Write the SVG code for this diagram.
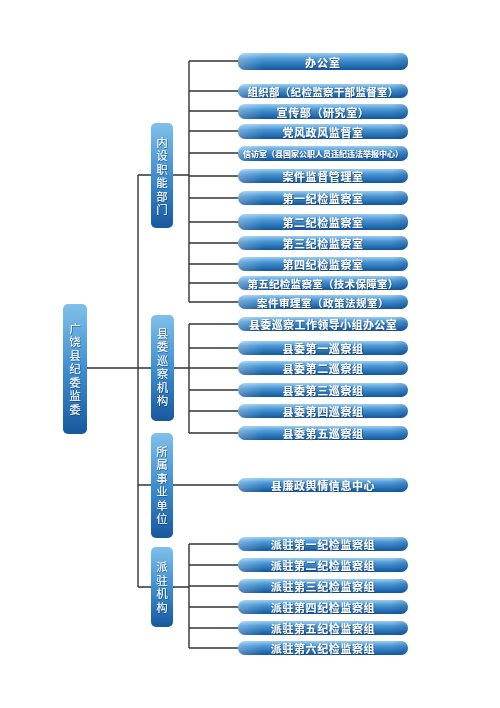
<svg xmlns="http://www.w3.org/2000/svg" width="500" height="708" viewBox="0 0 500 708">
<defs>
<linearGradient id="gBox" x1="0" y1="0" x2="0" y2="1">
<stop offset="0" stop-color="#9ccdf0"/>
<stop offset="0.35" stop-color="#4a98d6"/>
<stop offset="1" stop-color="#13569c"/>
</linearGradient>
<linearGradient id="gShade" x1="0" y1="0" x2="1" y2="0">
<stop offset="0" stop-color="#ffffff" stop-opacity="0.25"/>
<stop offset="0.15" stop-color="#ffffff" stop-opacity="0"/>
<stop offset="0.9" stop-color="#0a3f7a" stop-opacity="0"/>
<stop offset="1" stop-color="#0a3f7a" stop-opacity="0.25"/>
</linearGradient>
<linearGradient id="gNode" x1="0" y1="0" x2="0" y2="1">
<stop offset="0" stop-color="#80c0ea"/>
<stop offset="0.5" stop-color="#3f8fd0"/>
<stop offset="1" stop-color="#17589f"/>
</linearGradient>
<filter id="sh" x="-10%" y="-30%" width="120%" height="160%">
<feDropShadow dx="0.6" dy="0.6" stdDeviation="0.4" flood-color="#0b2f5a" flood-opacity="0.8"/>
</filter>
</defs>
<style>
.box{fill:url(#gBox)}
.ov{fill:url(#gShade)}
.node{fill:url(#gNode)}
.t{font-family:"Noto Sans CJK SC","Noto Sans",sans-serif;font-weight:bold;fill:#ffffff;text-anchor:middle;dominant-baseline:central;font-size:11px;letter-spacing:0.6px;filter:url(#sh)}
.v{font-size:11.5px;font-weight:normal;writing-mode:vertical-rl;text-orientation:upright;letter-spacing:2px;text-anchor:middle}
.c{fill:none;stroke:#333333;stroke-width:1.4}
</style>
<rect width="500" height="708" fill="#ffffff"/>
<g id="connectors">
<path class="c" d="M87 368H138M138 175V587M138 175H151M173 175H189M189 61V302M189 61H238M189 91H238M189 111H238M189 131H238M189 153H238M189 176H238M189 198H238M189 222H238M189 243H238M189 264H238M189 283H238M189 302H238"/>
<path class="c" d="M138 368H151M174 368H189M189 324V433M189 324H238M189 348H238M189 368H238M189 390H238M189 411H238M189 433H238"/>
<path class="c" d="M138 485H151M173 485H238"/>
<path class="c" d="M138 587H151M173 587H189M189 544V648M189 544H238M189 565H238M189 586H238M189 607H238M189 628H238M189 648H238"/>
</g>
<g id="root"><rect class="node" x="63" y="304" width="24" height="130" rx="5"/>
<text class="t v" x="75" y="370">广饶县纪委监委</text></g>
<g id="n-neishe"><rect class="node" x="151" y="123" width="22" height="105" rx="5"/>
<text class="t v" x="162" y="177">内设职能部门</text></g>
<g id="n-xuncha"><rect class="node" x="151" y="315" width="23" height="106" rx="5"/>
<text class="t v" x="162.5" y="368">县委巡察机构</text></g>
<g id="n-shiye"><rect class="node" x="151" y="433" width="22" height="105" rx="5"/>
<text class="t v" x="162" y="486">所属事业单位</text></g>
<g id="n-paizhu"><rect class="node" x="151" y="547" width="22" height="80" rx="5"/>
<text class="t v" x="162" y="588">派驻机构</text></g>
<g id="b01"><rect class="box" x="238" y="53" width="170" height="17" rx="7"/><rect class="ov" x="238" y="53" width="170" height="17" rx="7"/><text class="t" x="323" y="61.5" style="letter-spacing:1px">办公室</text></g>
<g id="b02"><rect class="box" x="238" y="84" width="170" height="14" rx="7"/><rect class="ov" x="238" y="84" width="170" height="14" rx="7"/><text class="t" x="323" y="91" style="font-size:10.5px;letter-spacing:0.3px">组织部（纪检监察干部监督室）</text></g>
<g id="b03"><rect class="box" x="238" y="104" width="170" height="15" rx="7"/><rect class="ov" x="238" y="104" width="170" height="15" rx="7"/><text class="t" x="323" y="111.5">宣传部（研究室）</text></g>
<g id="b04"><rect class="box" x="238" y="124" width="170" height="15" rx="7"/><rect class="ov" x="238" y="124" width="170" height="15" rx="7"/><text class="t" x="323" y="131.5">党风政风监督室</text></g>
<g id="b05"><rect class="box" x="238" y="146" width="170" height="15" rx="7"/><rect class="ov" x="238" y="146" width="170" height="15" rx="7"/><text class="t" x="323" y="153.5" style="font-size:8px;letter-spacing:0px">信访室（县国家公职人员违纪违法举报中心）</text></g>
<g id="b06"><rect class="box" x="238" y="169" width="170" height="14" rx="7"/><rect class="ov" x="238" y="169" width="170" height="14" rx="7"/><text class="t" x="323" y="176">案件监督管理室</text></g>
<g id="b07"><rect class="box" x="238" y="191" width="170" height="14" rx="7"/><rect class="ov" x="238" y="191" width="170" height="14" rx="7"/><text class="t" x="323" y="198">第一纪检监察室</text></g>
<g id="b08"><rect class="box" x="238" y="214" width="170" height="16" rx="7"/><rect class="ov" x="238" y="214" width="170" height="16" rx="7"/><text class="t" x="323" y="222">第二纪检监察室</text></g>
<g id="b09"><rect class="box" x="238" y="236" width="170" height="14" rx="7"/><rect class="ov" x="238" y="236" width="170" height="14" rx="7"/><text class="t" x="323" y="243">第三纪检监察室</text></g>
<g id="b10"><rect class="box" x="238" y="257" width="170" height="14" rx="7"/><rect class="ov" x="238" y="257" width="170" height="14" rx="7"/><text class="t" x="323" y="264">第四纪检监察室</text></g>
<g id="b11"><rect class="box" x="238" y="276" width="170" height="14" rx="7"/><rect class="ov" x="238" y="276" width="170" height="14" rx="7"/><text class="t" x="323" y="283" style="font-size:10.5px;letter-spacing:0.3px">第五纪检监察室（技术保障室）</text></g>
<g id="b12"><rect class="box" x="238" y="295" width="170" height="14" rx="7"/><rect class="ov" x="238" y="295" width="170" height="14" rx="7"/><text class="t" x="323" y="302" style="font-size:10.5px;letter-spacing:0.5px">案件审理室（政策法规室）</text></g>
<g id="b13"><rect class="box" x="238" y="317" width="170" height="14" rx="7"/><rect class="ov" x="238" y="317" width="170" height="14" rx="7"/><text class="t" x="323" y="324" style="letter-spacing:0.4px">县委巡察工作领导小组办公室</text></g>
<g id="b14"><rect class="box" x="238" y="341" width="170" height="14" rx="7"/><rect class="ov" x="238" y="341" width="170" height="14" rx="7"/><text class="t" x="323" y="348">县委第一巡察组</text></g>
<g id="b15"><rect class="box" x="238" y="361" width="170" height="14" rx="7"/><rect class="ov" x="238" y="361" width="170" height="14" rx="7"/><text class="t" x="323" y="368">县委第二巡察组</text></g>
<g id="b16"><rect class="box" x="238" y="383" width="170" height="14" rx="7"/><rect class="ov" x="238" y="383" width="170" height="14" rx="7"/><text class="t" x="323" y="390">县委第三巡察组</text></g>
<g id="b17"><rect class="box" x="238" y="404" width="170" height="14" rx="7"/><rect class="ov" x="238" y="404" width="170" height="14" rx="7"/><text class="t" x="323" y="411">县委第四巡察组</text></g>
<g id="b18"><rect class="box" x="238" y="426" width="170" height="14" rx="7"/><rect class="ov" x="238" y="426" width="170" height="14" rx="7"/><text class="t" x="323" y="433">县委第五巡察组</text></g>
<g id="b19"><rect class="box" x="238" y="478" width="170" height="14" rx="7"/><rect class="ov" x="238" y="478" width="170" height="14" rx="7"/><text class="t" x="323" y="485">县廉政舆情信息中心</text></g>
<g id="b20"><rect class="box" x="238" y="537" width="170" height="14" rx="7"/><rect class="ov" x="238" y="537" width="170" height="14" rx="7"/><text class="t" x="323" y="544">派驻第一纪检监察组</text></g>
<g id="b21"><rect class="box" x="238" y="558" width="170" height="14" rx="7"/><rect class="ov" x="238" y="558" width="170" height="14" rx="7"/><text class="t" x="323" y="565">派驻第二纪检监察组</text></g>
<g id="b22"><rect class="box" x="238" y="579" width="170" height="14" rx="7"/><rect class="ov" x="238" y="579" width="170" height="14" rx="7"/><text class="t" x="323" y="586">派驻第三纪检监察组</text></g>
<g id="b23"><rect class="box" x="238" y="600" width="170" height="14" rx="7"/><rect class="ov" x="238" y="600" width="170" height="14" rx="7"/><text class="t" x="323" y="607">派驻第四纪检监察组</text></g>
<g id="b24"><rect class="box" x="238" y="621" width="170" height="14" rx="7"/><rect class="ov" x="238" y="621" width="170" height="14" rx="7"/><text class="t" x="323" y="628">派驻第五纪检监察组</text></g>
<g id="b25"><rect class="box" x="238" y="641" width="170" height="14" rx="7"/><rect class="ov" x="238" y="641" width="170" height="14" rx="7"/><text class="t" x="323" y="648">派驻第六纪检监察组</text></g>
</svg>
